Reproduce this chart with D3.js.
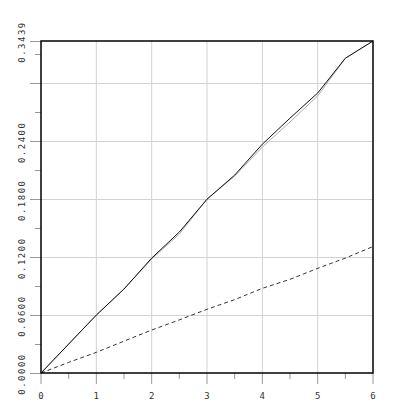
<!DOCTYPE html>
<html>
<head>
<meta charset="utf-8">
<script src="https://cdn.jsdelivr.net/npm/d3@7"></script>
<style>
  body { margin: 0; background: #fff; }
  text { font-family: "DejaVu Sans Mono", monospace; fill: #333; }
</style>
</head>
<body>
<svg id="chart" width="415" height="415"></svg>
<script>
const xs = [0, 0.5, 1, 1.5, 2, 2.5, 3, 3.5, 4, 4.5, 5, 5.5, 6];
const solidVals = [0, 0.030, 0.060, 0.087, 0.119, 0.146, 0.180, 0.205, 0.237, 0.264, 0.290, 0.326, 0.3439];
const grayVals  = [0, 0.030, 0.060, 0.087, 0.118, 0.144, 0.180, 0.204, 0.234, 0.260, 0.287, 0.326, 0.3439];
const dashVals  = [0, 0.011, 0.0214, 0.033, 0.0445, 0.055, 0.066, 0.076, 0.0877, 0.097, 0.1084, 0.119, 0.131];
const yLabelTicks = [0, 0.06, 0.12, 0.18, 0.24, 0.3439];
const yGridTicks = [0.06, 0.12, 0.18, 0.24, 0.30];
const yMinorTicks = [0.03, 0.09, 0.15, 0.21, 0.27, 0.33];
const xMajorTicks = [0, 1, 2, 3, 4, 5, 6];
const xMinorTicks = [0.5, 1.5, 2.5, 3.5, 4.5, 5.5];

const margin = {top: 41, right: 42, bottom: 42, left: 41};
const W = 415, H = 415;
const svg = d3.select("#chart");

const x = d3.scaleLinear().domain([0, 6]).range([margin.left, W - margin.right]);
const y = d3.scaleLinear().domain([0, 0.3439]).range([H - margin.bottom, margin.top]);

// grid
svg.append("g").selectAll("line").data(xMajorTicks.slice(1, -1)).join("line")
  .attr("x1", d => x(d)).attr("x2", d => x(d))
  .attr("y1", y(0)).attr("y2", y(0.3439))
  .attr("stroke", "#d2d2d2").attr("stroke-width", 1);
svg.append("g").selectAll("line").data(yGridTicks).join("line")
  .attr("y1", d => Math.round(y(d)) + 0.5).attr("y2", d => Math.round(y(d)) + 0.5)
  .attr("x1", x(0)).attr("x2", x(6))
  .attr("stroke", "#d2d2d2").attr("stroke-width", 1);

// ticks
const tickCol = "#999";
svg.append("g").selectAll("line").data(xMajorTicks).join("line")
  .attr("x1", d => x(d)).attr("x2", d => x(d))
  .attr("y1", y(0)).attr("y2", y(0) + 11)
  .attr("stroke", tickCol);
svg.append("g").selectAll("line").data(xMinorTicks).join("line")
  .attr("x1", d => x(d)).attr("x2", d => x(d))
  .attr("y1", y(0)).attr("y2", y(0) + 6)
  .attr("stroke", tickCol);
svg.append("g").selectAll("line").data(yLabelTicks.concat([0.30])).join("line")
  .attr("y1", d => Math.round(y(d)) + 0.5).attr("y2", d => Math.round(y(d)) + 0.5)
  .attr("x1", x(0) - 11).attr("x2", x(0))
  .attr("stroke", tickCol);
svg.append("g").selectAll("line").data(yMinorTicks).join("line")
  .attr("y1", d => Math.round(y(d)) + 0.5).attr("y2", d => Math.round(y(d)) + 0.5)
  .attr("x1", x(0) - 6).attr("x2", x(0))
  .attr("stroke", tickCol);

// labels
svg.append("g").selectAll("text").data(xMajorTicks).join("text")
  .attr("x", d => x(d)).attr("y", y(0) + 26)
  .attr("text-anchor", "middle")
  .attr("font-size", 9)
  .text(d => d);
svg.append("g").selectAll("text").data(yLabelTicks).join("text")
  .attr("transform", d => `translate(25,${y(d) + 1}) rotate(-90)`)
  .attr("text-anchor", "middle")
  .attr("font-size", 9)
  .attr("letter-spacing", 1.5)
  .text(d => d === 0.3439 ? "0.3439" : d3.format(".4f")(d));

// lines
const line = d3.line().x((d, i) => x(xs[i])).y(d => y(d));
svg.append("path").datum(grayVals).attr("d", line)
  .attr("fill", "none").attr("stroke", "#aaa").attr("stroke-width", 1);
svg.append("path").datum(solidVals).attr("d", line)
  .attr("fill", "none").attr("stroke", "#111").attr("stroke-width", 1);
svg.append("path").datum(dashVals).attr("d", line)
  .attr("fill", "none").attr("stroke", "#333").attr("stroke-width", 1)
  .attr("stroke-dasharray", "4,3");

// frame
svg.append("rect")
  .attr("x", x(0)).attr("y", y(0.3439))
  .attr("width", x(6) - x(0)).attr("height", y(0) - y(0.3439))
  .attr("fill", "none").attr("stroke", "#000").attr("stroke-width", 1.5);
</script>
</body>
</html>
